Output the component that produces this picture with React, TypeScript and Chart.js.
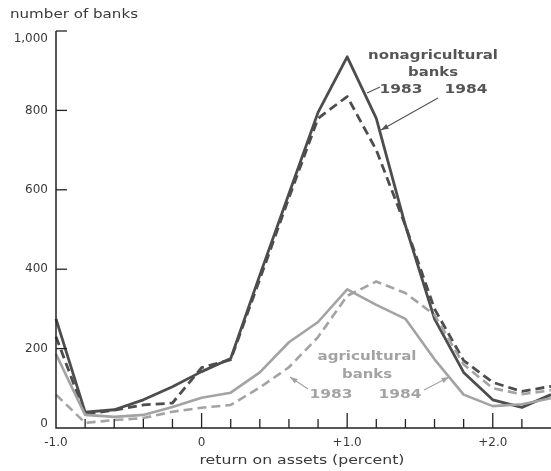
import React, { useEffect, useRef } from "react";
import { Chart, registerables } from "chart.js";

Chart.register(...registerables);

const returnOnAssets = [-1.0, -0.8, -0.6, -0.4, -0.2, 0, 0.2, 0.4, 0.6, 0.8, 1.0, 1.2, 1.4, 1.6, 1.8, 2.0, 2.2, 2.4];
const nonag1983 = [275, 40, 46, 71, 104, 142, 175, 385, 590, 795, 935, 780, 510, 275, 140, 71, 52, 84];
const nonag1984 = [230, 35, 45, 58, 63, 152, 172, 375, 580, 780, 835, 700, 510, 300, 170, 115, 92, 105];
const ag1983 = [84, 13, 20, 25, 41, 51, 58, 102, 153, 229, 333, 369, 340, 285, 160, 100, 85, 95];
const ag1984 = [186, 33, 28, 33, 53, 76, 89, 140, 216, 267, 349, 310, 275, 173, 84, 55, 60, 75];

const yTickValues = [0, 200, 400, 600, 800, 1000];
const yTickLabels = ["0", "200", "400", "600", "800", "1,000"];
const xMinorTicks = [-0.8, -0.6, -0.4, -0.2, 0.2, 0.4, 0.6, 0.8, 1.2, 1.4, 1.6, 1.8, 2.2];
const xMajorTicks = [0, 1, 2];
const xTickValues = [-1, 0, 1, 2];
const xTickLabels = ["-1.0", "0", "+1.0", "+2.0"];

const DARK = "#4d4d4d";
const LIGHT = "#a3a3a3";
const TEXT = "#3a3a3a";

function arrow(ctx: CanvasRenderingContext2D, x1: number, y1: number, x2: number, y2: number, color: string, head: boolean) {
  ctx.save();
  ctx.strokeStyle = color;
  ctx.fillStyle = color;
  ctx.lineWidth = 1.2;
  ctx.beginPath();
  ctx.moveTo(x1, y1);
  ctx.lineTo(x2, y2);
  ctx.stroke();
  if (head) {
    const a = Math.atan2(y2 - y1, x2 - x1);
    const L = 8, W = 0.35;
    ctx.beginPath();
    ctx.moveTo(x2, y2);
    ctx.lineTo(x2 - L * Math.cos(a - W), y2 - L * Math.sin(a - W));
    ctx.lineTo(x2 - L * Math.cos(a + W), y2 - L * Math.sin(a + W));
    ctx.closePath();
    ctx.fill();
  }
  ctx.restore();
}

function textW(ctx: CanvasRenderingContext2D, s: string, cx: number, cy: number, width: number) {
  // draw text centered at cx, cy, stretched horizontally to the given width
  const m = ctx.measureText(s).width;
  ctx.save();
  ctx.translate(cx, cy);
  ctx.scale(width / m, 1);
  ctx.textAlign = "center";
  ctx.textBaseline = "middle";
  ctx.fillText(s, 0, 0);
  ctx.restore();
}

const axesPlugin = {
  id: "axesPlugin",
  afterDatasetsDraw(chart: any) {
    const ctx: CanvasRenderingContext2D = chart.ctx;
    const xs = chart.scales.x;
    const ys = chart.scales.y;
    const x0 = xs.getPixelForValue(-1);
    const xEnd = xs.getPixelForValue(2.4);
    const yb = ys.getPixelForValue(0);
    const yt = ys.getPixelForValue(1000);
    ctx.save();
    ctx.strokeStyle = "#222";
    ctx.lineWidth = 1.5;
    ctx.beginPath();
    ctx.moveTo(x0, yt);
    ctx.lineTo(x0, yb);
    ctx.lineTo(xEnd, yb);
    ctx.stroke();
    ctx.lineWidth = 1.3;
    yTickValues.forEach((v) => {
      if (v === 0) return;
      const y = ys.getPixelForValue(v);
      ctx.beginPath();
      ctx.moveTo(x0, y);
      ctx.lineTo(x0 + 11, y);
      ctx.stroke();
    });
    xMinorTicks.forEach((v) => {
      const x = xs.getPixelForValue(v);
      ctx.beginPath();
      ctx.moveTo(x, yb);
      ctx.lineTo(x, yb - 9);
      ctx.stroke();
    });
    xMajorTicks.forEach((v) => {
      const x = xs.getPixelForValue(v);
      ctx.beginPath();
      ctx.moveTo(x, yb);
      ctx.lineTo(x, yb - 15);
      ctx.stroke();
    });

    ctx.fillStyle = TEXT;
    ctx.font = "12px 'DejaVu Sans'";
    ctx.textAlign = "right";
    ctx.textBaseline = "middle";
    yTickValues.forEach((v, i) => {
      let y = ys.getPixelForValue(v);
      if (v === 1000) y += 8;
      if (v === 0) y -= 4;
      ctx.fillText(yTickLabels[i], x0 - 8, y);
    });
    ctx.textAlign = "center";
    xTickValues.forEach((v, i) => {
      const x = xs.getPixelForValue(v);
      ctx.fillText(xTickLabels[i], x, yb + 15);
    });
    ctx.font = "12px 'DejaVu Sans'";
    textW(ctx, "return on assets (percent)", 302, yb + 33, 205);
    textW(ctx, "number of banks", 74, 15, 128);

    // nonagricultural annotation
    ctx.fillStyle = "#555";
    ctx.font = "bold 13px 'DejaVu Sans'";
    textW(ctx, "nonagricultural", 433, 56, 130);
    textW(ctx, "banks", 433, 73, 50);
    textW(ctx, "1983", 401, 90, 43);
    textW(ctx, "1984", 466, 90, 43);
    arrow(ctx, 380, 87, 367, 93, "#555", false);
    arrow(ctx, 438, 98, 381, 130, "#555", true);

    // agricultural annotation
    ctx.fillStyle = LIGHT;
    textW(ctx, "agricultural", 367, 357, 99);
    textW(ctx, "banks", 367, 375, 50);
    textW(ctx, "1983", 331, 395, 43);
    textW(ctx, "1984", 400, 395, 43);
    arrow(ctx, 308, 389, 290, 377, LIGHT, true);
    arrow(ctx, 424, 390, 449, 377, LIGHT, true);
    ctx.restore();
  },
};

function pts(vals: number[]) {
  return returnOnAssets.map((x, i) => ({ x, y: vals[i] }));
}

export default function App() {
  const ref = useRef<HTMLCanvasElement>(null);
  useEffect(() => {
    document.body.style.margin = "0";
    const canvas = ref.current!;
    const chart = new Chart(canvas, {
      type: "line",
      data: {
        datasets: [
          { label: "agricultural 1983", data: pts(ag1983), borderColor: LIGHT, borderWidth: 2.6, borderDash: [9, 5], pointRadius: 0, tension: 0, clip: false } as any,
          { label: "agricultural 1984", data: pts(ag1984), borderColor: LIGHT, borderWidth: 2.6, pointRadius: 0, tension: 0, clip: false } as any,
          { label: "nonagricultural 1984", data: pts(nonag1984), borderColor: DARK, borderWidth: 2.8, borderDash: [9, 5], pointRadius: 0, tension: 0, clip: false } as any,
          { label: "nonagricultural 1983", data: pts(nonag1983), borderColor: DARK, borderWidth: 2.8, pointRadius: 0, tension: 0, clip: false } as any,
        ],
      },
      options: {
        animation: false,
        responsive: false,
        maintainAspectRatio: false,
        layout: { padding: { left: 56, right: 0, top: 31, bottom: 43 } },
        plugins: { legend: { display: false }, tooltip: { enabled: false } },
        elements: { line: { borderJoinStyle: "round", borderCapStyle: "butt" } },
        scales: {
          x: { type: "linear", min: -1, max: 2.4, display: false },
          y: { type: "linear", min: 0, max: 1000, display: false },
        },
      },
      plugins: [axesPlugin],
    });
    return () => chart.destroy();
  }, []);
  return <canvas ref={ref} width={551} height={471} style={{ display: "block" }} />;
}
